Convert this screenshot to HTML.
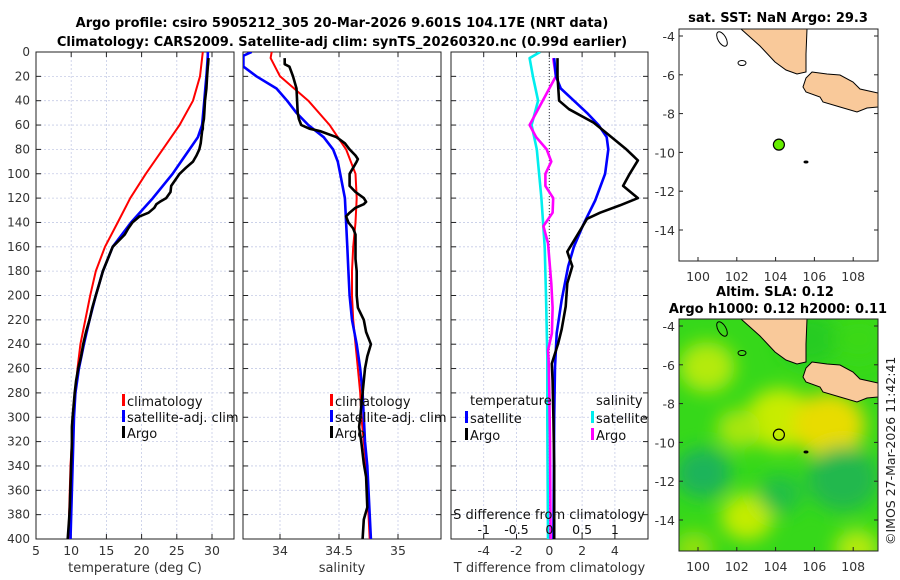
<!DOCTYPE html>
<html><head><meta charset="utf-8"><title>Argo profile</title>
<style>
html,body{margin:0;padding:0;background:#fff;}
svg{display:block;font-family:"DejaVu Sans","Liberation Sans",sans-serif;}
</style></head>
<body>
<svg id="chart" width="900" height="580" viewBox="0 0 900 580" xmlns="http://www.w3.org/2000/svg">
<defs>
<clipPath id="c1"><rect x="36" y="52" width="198" height="487"/></clipPath>
<clipPath id="c2"><rect x="243" y="52" width="198" height="487"/></clipPath>
<clipPath id="c3"><rect x="451" y="52" width="197" height="487"/></clipPath>
<clipPath id="cm1"><rect x="679" y="29" width="199" height="232"/></clipPath>
<clipPath id="cm2"><rect x="679" y="319" width="199" height="232"/></clipPath>
<filter id="blur" x="-20%" y="-20%" width="140%" height="140%"><feGaussianBlur stdDeviation="9"/></filter>
</defs>
<g font-weight="bold" font-size="13" text-anchor="middle">
<text x="342" y="27">Argo profile: csiro 5905212_305 20-Mar-2026 9.601S 104.17E (NRT data)</text>
<text x="342" y="46">Climatology: CARS2009. Satellite-adj clim: synTS_20260320.nc (0.99d earlier)</text>
</g>
<g id="panels"></g>
<g id="maps"></g>
<text x="895" y="545" font-size="12.5" fill="#222" transform="rotate(-90 895 545)">©IMOS 27-Mar-2026 11:42:41</text>
</svg>
<script>
// ---------- data ----------
const depthTicks = [0,20,40,60,80,100,120,140,160,180,200,220,240,260,280,300,320,340,360,380,400];
const tempTicks = [5,10,15,20,25,30];
const salTicks = [34,34.5,35];
const tdiffTicks = [-4,-2,0,2,4];
const sdiffTicks = [-1,-0.5,0,0.5,1];
const sdiffLabels = ["-1","-0.5","0","0.5","1"];

const climDepth = [0,5,20,40,60,80,100,120,140,160,180,200,220,240,260,280,300,320,340,360,380,400];
const climTemp  = [28.7,28.6,28.3,27.3,25.4,23.0,20.6,18.4,16.6,14.8,13.5,12.7,12.0,11.3,10.9,10.6,10.3,10.1,9.9,9.8,9.7,9.6];
const climSal   = [33.93,33.92,34.0,34.24,34.42,34.56,34.64,34.65,34.64,34.62,34.61,34.61,34.62,34.64,34.66,34.68,34.69,34.71,34.73,34.74,34.75,34.76];

const satDepth = [0,3,12,20,30,40,50,60,70,80,90,100,120,140,160,180,200,220,240,260,280,300,320,340,360,380,400];
const satTemp  = [29.4,29.4,29.3,29.2,29.05,28.9,28.75,28.6,28.0,26.8,25.6,24.4,21.6,18.5,15.9,14.5,13.5,12.6,11.8,11.1,10.6,10.4,10.3,10.2,10.1,10.0,9.9];
const satSal   = [33.76,33.69,33.69,33.80,33.97,34.06,34.14,34.24,34.37,34.45,34.49,34.51,34.55,34.56,34.57,34.58,34.59,34.61,34.65,34.68,34.70,34.71,34.72,34.74,34.75,34.76,34.77];

const argoDepth = [5,10,12,20,30,40,50,55,60,63,65,70,75,80,85,88,90,95,100,110,115,120,123,125,128,132,135,140,145,150,160,170,180,190,200,210,220,230,240,250,260,270,280,300,308,321,338,349,374,384,400];
const argoTemp  = [29.5,29.45,29.4,29.3,29.2,29.0,28.9,28.85,28.7,28.7,28.6,28.5,28.4,28.2,27.8,27.5,27.3,26.3,25.4,24.2,24.1,23.5,22.6,22.1,21.8,21.0,19.7,18.7,18.1,17.6,15.9,15.2,14.5,14.0,13.5,13.0,12.6,12.1,11.7,11.4,11.0,10.7,10.5,10.2,10.1,10.1,10.0,9.95,9.8,9.7,9.5];
const argoSal   = [34.04,34.04,34.08,34.11,34.14,34.145,34.15,34.16,34.18,34.25,34.34,34.48,34.55,34.59,34.64,34.66,34.65,34.62,34.59,34.59,34.64,34.71,34.73,34.71,34.64,34.59,34.56,34.58,34.62,34.64,34.64,34.64,34.65,34.65,34.65,34.66,34.71,34.73,34.77,34.74,34.72,34.71,34.70,34.68,34.67,34.69,34.71,34.73,34.74,34.71,34.70];

const tdSatDepth = [5,20,30,40,50,60,70,80,100,122,141,160,176,204,231,259,300,400];
const tdSat      = [0.3,0.4,0.7,1.5,2.3,3.0,3.5,3.6,3.4,2.8,2.1,1.5,1.15,0.75,0.45,0.35,0.3,0.25];
const tdArgoDepth = [5,20,40,47,58,70,80,89,100,110,120,126,132,137,146,164,176,190,209,228,239,256,270,300,340,400];
const tdArgo      = [0.5,0.5,0.6,1.2,2.7,3.8,4.7,5.4,4.9,4.5,5.4,4.3,3.1,2.3,1.9,1.1,1.4,1.1,1.0,0.75,0.55,0.15,0.2,0.25,0.3,0.3];
const sdSatDepth = [0,5,20,40,60,80,120,160,200,250,300,400];
const sdSat      = [-0.14,-0.30,-0.25,-0.17,-0.27,-0.19,-0.12,-0.07,-0.05,-0.03,-0.03,-0.02];
const sdArgoDepth = [5,20,40,60,70,80,90,100,110,120,132,143,157,190,210,231,245,253,280,320,400];
const sdArgo      = [0.06,0.1,-0.1,-0.3,-0.2,-0.04,0.03,-0.06,-0.06,0.06,0.05,-0.09,-0.02,0.03,0.05,0.04,-0.02,-0.01,0.0,0.01,0.02];

const mapXTicks = [100,102,104,106,108];
const mapYTicks = [-4,-6,-8,-10,-12,-14];
const argoLon = 104.17, argoLat = -9.601;

// ---------- helpers ----------
const NS = "http://www.w3.org/2000/svg";
function mk(tag, attrs, parent){ const e=document.createElementNS(NS,tag); for(const k in attrs) e.setAttribute(k,attrs[k]); if(parent) parent.appendChild(e); return e; }
const Y0=52, YPX=487/400;
const yD = d => Y0 + d*YPX;
const panels = document.getElementById('panels');

function panel(name, x0, x1, xs, clip, ticks, labels, xlabel, leftLabels){
  const g = mk('g',{},panels);
  
  
  // grid
  const grid = mk('g',{stroke:'#c5cbe6','stroke-width':0.8,'stroke-dasharray':'2,2'},g);
  
  
  depthTicks.forEach(d=>{ mk('line',{x1:x0,x2:x1,y1:yD(d),y2:yD(d)},grid); });
  ticks.forEach(t=>{ mk('line',{x1:xs(t),x2:xs(t),y1:Y0,y2:yD(400)},grid); });
  // tick marks
  const tm = mk('g',{stroke:'#222','stroke-width':1},g);
  depthTicks.forEach(d=>{ mk('line',{x1:x0,x2:x0+5,y1:yD(d),y2:yD(d)},tm); mk('line',{x1:x1-5,x2:x1,y1:yD(d),y2:yD(d)},tm); });
  ticks.forEach(t=>{ mk('line',{x1:xs(t),x2:xs(t),y1:yD(400),y2:yD(400)-5},tm); mk('line',{x1:xs(t),x2:xs(t),y1:Y0,y2:Y0+5},tm); });
  // x labels
  const xl = mk('g',{'font-size':12.5,fill:'#333','text-anchor':'middle'},g);
  
  
  ticks.forEach((t,i)=>{ const tx=mk('text',{x:xs(t),y:555},xl); tx.textContent=labels[i]; });
  const xt = mk('text',{x:(x0+x1)/2,y:572,'font-size':13,fill:'#333','text-anchor':'middle'},g);
  
  
  xt.textContent = xlabel;
  if(leftLabels){
    const yl = mk('g',{'font-size':12,fill:'#333','text-anchor':'end'},g);
    
    
    depthTicks.forEach(d=>{ const tx=mk('text',{x:30,y:yD(d)+4},yl); tx.textContent=d; });
  }
  const box = mk('rect',{x:x0,y:Y0,width:x1-x0,height:yD(400)-Y0,fill:'none',stroke:'#222','stroke-width':1},g);
  
  
  return g;
}
function series(g, name, depths, vals, xs, color, w, clip){
  const pts = depths.map((d,i)=>xs(vals[i]).toFixed(1)+','+yD(d).toFixed(1)).join(' ');
  const p = mk('polyline',{points:pts,fill:'none',stroke:color,'stroke-width':w,'stroke-linejoin':'round','clip-path':'url(#'+clip+')'},g);
  
  
}
function legend(g, name, x, y, color, label){
  const lg = mk('g',{},g);
  
  
  mk('rect',{x:x-4,y:y-7,width:3,height:12,fill:color},lg);
  const t = mk('text',{x:x+1,y:y+5,'font-size':13,fill:'#111'},lg);
  t.textContent = label;
}

// Panel 1: temperature
const xT = v => 36 + (v-5)*7.04;
const g1 = panel('temperature-panel',36,234,xT,'c1',tempTicks,tempTicks.map(String),'temperature (deg C)',true);
series(g1,'temperature-climatology-line',climDepth,climTemp,xT,'#ff0000',2,'c1');
series(g1,'temperature-satellite-line',satDepth,satTemp,xT,'#0000ff',2.6,'c1');
series(g1,'temperature-argo-line',argoDepth,argoTemp,xT,'#000000',2.6,'c1');
legend(g1,'legend-climatology',126,401,'#ff0000','climatology');
legend(g1,'legend-satellite-adj',126,417,'#0000ff','satellite-adj. clim');
legend(g1,'legend-argo',126,433,'#000000','Argo');

// Panel 2: salinity
const xS = v => 280 + (v-34)*118;
const g2 = panel('salinity-panel',243,441,xS,'c2',salTicks,['34','34.5','35'],'salinity',false);
series(g2,'salinity-climatology-line',climDepth,climSal,xS,'#ff0000',2,'c2');
series(g2,'salinity-satellite-line',satDepth,satSal,xS,'#0000ff',2.6,'c2');
series(g2,'salinity-argo-line',argoDepth,argoSal,xS,'#000000',2.6,'c2');
legend(g2,'legend-climatology-sal',334,401,'#ff0000','climatology');
legend(g2,'legend-satellite-adj-sal',334,417,'#0000ff','satellite-adj. clim');
legend(g2,'legend-argo-sal',334,433,'#000000','Argo');

// Panel 3: differences
const xTD = v => 549.3 + v*16.4;
const xSD = v => 549.3 + v*4*16.4;
const g3 = panel('difference-panel',451,648,xTD,'c3',tdiffTicks,tdiffTicks.map(String),'T difference from climatology',false);
mk('line',{x1:xTD(0),x2:xTD(0),y1:Y0,y2:yD(400),stroke:'#333','stroke-width':1,'stroke-dasharray':'1,2'},g3);
series(g3,'salinity-diff-satellite-line',sdSatDepth,sdSat,xSD,'#00eeee',2.6,'c3');
series(g3,'salinity-diff-argo-line',sdArgoDepth,sdArgo,xSD,'#ff00ff',2.6,'c3');
series(g3,'temp-diff-satellite-line',tdSatDepth,tdSat,xTD,'#0000ff',2.6,'c3');
series(g3,'temp-diff-argo-line',tdArgoDepth,tdArgo,xTD,'#000000',2.6,'c3');
const st = mk('text',{x:549,y:519,'font-size':13,fill:'#111','text-anchor':'middle'},g3);


st.textContent='S difference from climatology';
const sl = mk('g',{'font-size':12.5,fill:'#111','text-anchor':'middle'},g3);


sdiffTicks.forEach((t,i)=>{ const tx=mk('text',{x:xSD(t),y:534},sl); tx.textContent=sdiffLabels[i]; });
const lt = mk('text',{x:470,y:405,'font-size':13,fill:'#111'},g3); lt.textContent='temperature';


const ls = mk('text',{x:596,y:405,'font-size':13,fill:'#111'},g3); ls.textContent='salinity';


legend(g3,'legend-temp-satellite',469,418,'#0000ff','satellite');
legend(g3,'legend-temp-argo',469,435,'#000000','Argo');
legend(g3,'legend-sal-satellite',595,418,'#00eeee','satellite');
legend(g3,'legend-sal-argo',595,435,'#ff00ff','Argo');

// ---------- maps ----------
const maps = document.getElementById('maps');
const mx = lon => 698 + (lon-100)*19.4;
function drawMap(name, top, clip, heat){
  const g = mk('g',{},maps);
  
  
  const my = lat => top + 7 + (-4-lat)*19.4;
  const ox=679, oy=top;
  const inner = mk('g',{'clip-path':'url(#'+clip+')'},g);
  if(heat){
    mk('rect',{x:ox,y:oy,width:199,height:232,fill:'#36d81a'},inner);
    const hb = mk('g',{filter:'url(#blur)'},inner);
    
    
    const blobs=[[28,48,28,'#b4ea08'],[101,100,34,'#c8ec00'],[150,106,36,'#e8dc00'],[60,110,22,'#a8e60a'],[68,198,26,'#c2ec04'],[178,230,22,'#b4ea08'],[24,154,28,'#1cb45a'],[164,160,36,'#20b84e'],[101,175,22,'#22c044'],[130,20,30,'#28cc22'],[180,20,25,'#3ad812'],[15,230,20,'#90e010']];
    blobs.forEach(b=>mk('ellipse',{cx:ox+b[0],cy:oy+b[1],rx:b[2],ry:b[2]*0.9,fill:b[3]},hb));
  } else {
    mk('rect',{x:ox,y:oy,width:199,height:232,fill:'#fff'},inner);
  }
  const land = mk('g',{fill:'#f9c99a',stroke:'#000','stroke-width':1},inner);
  
  
  const P=(arr)=>arr.map(p=>(ox+p[0])+','+(oy+p[1])).join(' ');
  mk('polygon',{points:P([[62,0],[81,17],[96,33],[107,41],[118,45],[127,43],[127,25],[128,0]])},land);
  mk('polygon',{points:P([[133,43],[148,45],[161,46],[174,53],[181,60],[199,64],[199,78],[188,79],[178,83],[161,78],[144,73],[141,68],[127,63],[124,58],[127,49]])},land);
  mk('ellipse',{cx:ox+43,cy:oy+10,rx:4,ry:8,fill:'none',transform:'rotate(-30 '+(ox+43)+' '+(oy+10)+')'},land);
  mk('ellipse',{cx:ox+63,cy:oy+34,rx:4,ry:2.5,fill:'none'},land);
  mk('ellipse',{cx:ox+127,cy:oy+133,rx:2,ry:1,fill:'#000'},land);
  const tm = mk('g',{stroke:'#222','stroke-width':1},g);
  mapXTicks.forEach(t=>{ mk('line',{x1:mx(t),x2:mx(t),y1:oy+232,y2:oy+228},tm); });
  mapYTicks.forEach(t=>{ mk('line',{x1:ox,x2:ox+4,y1:my(t),y2:my(t)},tm); mk('line',{x1:ox+199,x2:ox+195,y1:my(t),y2:my(t)},tm); });
  const xl = mk('g',{'font-size':12.5,fill:'#333','text-anchor':'middle'},g);
  
  
  mapXTicks.forEach(t=>{ const tx=mk('text',{x:mx(t),y:oy+252},xl); tx.textContent=t; });
  const yl = mk('g',{'font-size':12.5,fill:'#333','text-anchor':'end'},g);
  
  
  mapYTicks.forEach(t=>{ const tx=mk('text',{x:675,y:my(t)+5},yl); tx.textContent=t; });
  mk('rect',{x:ox,y:oy,width:199,height:232,fill:'none',stroke:'#222','stroke-width':1},g);
  const m = mk('circle',{cx:mx(argoLon),cy:my(argoLat),r:heat?5.5:5.5,fill:heat?'none':'#66ee00',stroke:'#000','stroke-width':1.2},g);
  
  
}
drawMap('sst-map',29,'cm1',false);
drawMap('sla-map',319,'cm2',true);
const mt = mk('g',{'font-weight':'bold','font-size':13,'text-anchor':'middle',fill:'#000'},maps);


[['sat. SST: NaN Argo: 29.3',778,22],['Altim. SLA: 0.12',775,296],['Argo h1000: 0.12 h2000: 0.11',778,313]].forEach(a=>{ const t=mk('text',{x:a[1],y:a[2]},mt); t.textContent=a[0]; });
</script>
</body></html>
